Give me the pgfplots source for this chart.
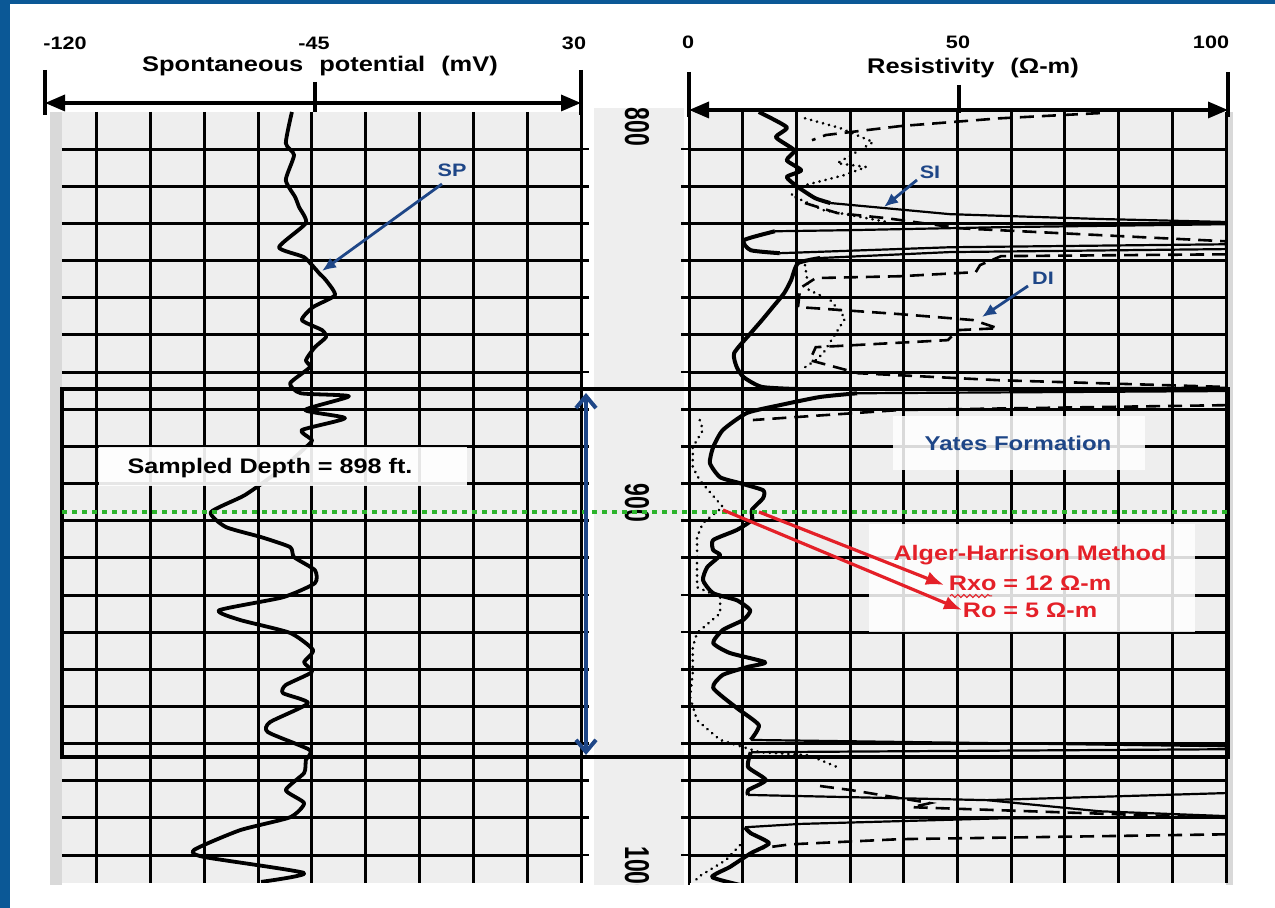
\documentclass[border=0pt]{standalone}
\usepackage{fontspec}
\setmainfont{Liberation Sans}
\usepackage{pgfplots}
\pgfplotsset{compat=1.18}
\usetikzlibrary{arrows.meta,decorations.pathmorphing}
\definecolor{frameblue}{RGB}{11,88,150}
\definecolor{annblue}{RGB}{30,70,135}
\definecolor{annred}{RGB}{228,32,40}
\definecolor{dotgreen}{RGB}{44,180,44}
\definecolor{cellgray}{RGB}{238,238,238}
\pgfplotsset{track/.style={scale only axis, height=385.5pt, ymin=790, ymax=997.5, y dir=reverse,
  axis line style={draw=none}, tick style={draw=none}, xticklabels={}, yticklabels={},
  ytick={800,810,...,990}, grid=major, major grid style={black, line width=1.5pt},
  axis background/.style={fill=cellgray}},
  bold/.style={black, line width=2pt, line join=round, smooth, tension=0.35},
  thin/.style={black, line width=1.1pt, line join=round},
  dsh/.style={black, line width=1.3pt, dash pattern=on 7pt off 4pt},
  dts/.style={black, line width=1.4pt, line cap=round, dash pattern=on 0.1pt off 3pt}}
\begin{document}
\begin{tikzpicture}[x=0.5pt,y=0.5pt,
  lbl/.style={font=\bfseries\fontsize{#1}{#1}\selectfont, xscale=1.2, inner sep=0pt}]
\path[use as bounding box, fill=white] (0,0) rectangle (1275,908);
\begin{scope}[y=-0.5pt, yshift=454pt]
\fill[gray!30] (50,112) rectangle (62,885);
\fill[gray!30] (1226,112) rectangle (1233,885);
\fill[cellgray] (594,108) rectangle (684,885);
\end{scope}

% SP track
\begin{axis}[track, at={(31pt,398pt)}, anchor=north west, width=259.5pt,
  xmin=-114.7, xmax=30, xtick={-105,-90,...,30}]
\addplot[black, line width=1.9pt, line join=round, smooth, tension=0.35] coordinates {
(-50.6,790.0) (-52.3,798.4) (-50.0,801.6) (-52.3,808.3) (-49.7,812.9) (-48.6,815.6)
(-46.7,819.9) (-54.2,826.4) (-47.2,829.1) (-43.0,833.4) (-41.1,835.3) (-38.6,839.3)
(-44.7,842.5) (-47.8,846.0) (-42.2,848.7) (-41.1,850.6) (-44.2,853.3) (-46.7,856.8)
(-45.6,858.7) (-51.1,863.0) (-48.1,865.7) (-34.7,866.5) (-46.9,870.2) (-35.8,872.4)
(-47.8,875.6) (-45.0,878.3) (-46.7,880.2) (-53.9,886.4) (-63.7,893.1) (-73.2,897.7)
(-69.0,901.7) (-59.2,904.4) (-51.1,907.1) (-50.0,909.8) (-44.2,913.3) (-44.2,916.8)
(-53.1,920.6) (-70.9,924.1) (-65.1,926.7) (-51.1,930.2) (-44.7,934.8) (-47.2,938.1)
(-45.0,940.7) (-52.3,944.2) (-53.1,946.4) (-46.1,949.1) (-56.7,954.2) (-57.3,956.9)
(-45.6,961.7) (-46.7,964.4) (-47.2,967.9) (-52.3,972.5) (-47.2,976.0) (-51.1,979.8)
(-65.1,983.3) (-77.9,988.6) (-75.1,990.5) (-47.2,994.8) (-59.2,997.2)};
\end{axis}

% Resistivity track
\begin{axis}[track, at={(344.5pt,398pt)}, anchor=north west, width=268.5pt,
  xmin=0, xmax=100, xtick={0,10,...,100}]
\addplot[bold] coordinates {(13.0,790.0) (18.2,794.1) (16.2,796.8) (19.6,800.3) (18.2,803.0) (20.9,805.7) (18.2,807.5) (20.3,810.2) (23.5,813.2) (26.3,814.5)};
\addplot[bold] coordinates {(16.0,822.1) (10.2,824.5) (11.5,827.2) (16.9,828.0)};
\addplot[bold] coordinates {(24.4,829.3) (20.3,830.7) (19.0,835.3) (17.7,838.8) (15.6,842.5) (13.6,846.0) (11.5,849.5) (8.4,854.9) (8.9,858.7) (10.2,861.4) (13.6,864.0) (20.7,864.6)};
\addplot[bold] coordinates {(31.3,865.7) (24.4,866.7) (16.9,868.9) (10.8,871.0) (6.3,875.6) (4.5,880.2) (3.9,884.5) (5.8,888.3) (9.5,889.9) (13.8,891.8) (13.8,893.9) (11.7,897.1) (11.7,899.8) (8.9,902.5) (4.5,905.2) (4.5,907.9) (5.8,909.3) (3.4,912.5) (2.6,916.0) (4.5,919.5) (8.9,921.4) (11.4,924.1) (10.1,926.7) (6.3,929.4) (4.5,932.9) (7.6,935.6) (14.2,938.1) (10.8,939.4) (6.3,941.5) (4.5,945.0) (8.9,950.4) (13.0,955.0) (11.5,959.0)};
\addplot[bold] coordinates {(11.5,962.3) (11.0,966.3) (14.3,969.8) (11.0,972.5) (11.0,973.8)};
\addplot[bold] coordinates {(10.4,982.5) (11.5,984.1) (14.9,986.8) (11.5,989.5) (7.6,993.2) (4.3,995.9) (9.7,998.1)};
\addplot[thin] coordinates {(26.3,814.5) (48.6,817.5) (76.5,818.8) (100,819.6) (100,820.2) (57.9,821.0) (30.0,821.8) (16.0,822.1)};
\addplot[thin] coordinates {(16.9,828.0) (48.6,826.4) (100,825.6) (100,826.9) (48.6,827.7) (24.4,829.3)};
\addplot[thin] coordinates {(20.7,864.6) (100,864.2) (100,865.1) (31.3,865.7)};
\addplot[thin] coordinates {(11.5,959.0) (100,960.7) (100,961.5) (11.5,962.3)};
\addplot[thin] coordinates {(11.0,973.8) (55.5,975.2) (100,973.3)};
\addplot[thin] coordinates {(55.5,975.2) (76.5,978.2) (100,979.5)};
\addplot[thin] coordinates {(100,979.8) (57.9,980.1) (20.7,981.6) (10.4,982.5)};
\addplot[dsh] coordinates {(76.5,790.3) (57.9,791.7) (39.3,793.8) (25.5,796.2) (22.9,797.6)};
\addplot[dsh] coordinates {(21.6,814.5) (27.6,817.2) (36.9,818.6) (50.5,821.3) (100,824.8)};
\addplot[dsh] coordinates {(100,828.3) (58.1,828.8) (54.2,831.2) (53.4,833.1) (39.3,834.2) (23.6,834.7) (20.7,837.4) (20.3,842.5) (39.3,844.4) (52.9,846.0) (57.5,848.2) (50.1,848.7) (48.2,851.4) (23.6,853.3) (22.5,856.8) (31.5,860.3) (57.9,862.2) (100,864.0)};
\addplot[dsh] coordinates {(100,868.9) (39.3,870.2) (11.9,872.9)};
\addplot[dsh] coordinates {(24.4,971.4) (30.2,972.5) (44.9,976.0) (41.5,977.1) (100,980.0)};
\addplot[dsh] coordinates {(100,984.4) (39.3,985.7) (18.8,987.1) (13.2,988.2)};
\addplot[dts] coordinates {(21.6,791.7) (28.1,794.3) (34.3,798.1) (27.6,803.8) (33.0,804.8) (28.9,807.0) (21.6,809.7) (19.0,812.4) (25.0,816.4) (36.9,819.6)};
\addplot[dts] coordinates {(21.6,831.2) (22.3,837.9) (26.3,840.6) (29.1,845.5) (25.0,854.9) (23.6,856.8) (21.6,858.7)};
\addplot[dts] coordinates {(2.0,872.9) (2.6,875.6) (0.7,880.2) (0.7,885.6) (2.0,889.1) (5.2,894.5) (6.3,896.3) (2.6,900.6) (1.5,904.4) (1.5,912.5) (1.5,917.9) (5.8,920.6) (5.8,924.9) (1.5,930.2) (0.7,934.0) (0.7,941.0) (0.2,947.5) (1.5,953.7) (5.8,959.0) (13.2,962.3) (22.3,963.1) (28.1,966.6)};
\addplot[dts] coordinates {(9.5,987.3) (6.9,991.3) (1.7,995.9) (0.6,998)};
\end{axis}

\begin{scope}[y=-0.5pt, yshift=454pt]
% depth track ticks
\foreach \d in {800,810,...,990} {
  \draw[line width=1.4pt] (581,{149+(\d-800)*3.716}) -- ++(8,0);
  \draw[line width=1.4pt] (689,{149+(\d-800)*3.716}) -- ++(-8,0);
}
\draw[line width=1pt] (689,108) -- (689,885);
\node[font=\bfseries\fontsize{11.5}{11.5}\selectfont, xscale=1.5, rotate=-90, inner sep=0pt] at (637,127) {800};
\node[font=\bfseries\fontsize{11.5}{11.5}\selectfont, xscale=1.5, rotate=-90, inner sep=0pt] at (637,503) {900};
\node[font=\bfseries\fontsize{11.5}{11.5}\selectfont, xscale=1.5, rotate=-90, inner sep=0pt] at (637,872) {1000};
\fill[white] (11,885) rectangle (1275,908);

% top scales
\draw[line width=1.7pt, {Triangle[length=10pt,width=8pt]}-{Triangle[length=10pt,width=8pt]}] (45,103) -- (581,103);
\draw[line width=1.7pt] (45,70) -- (45,115) (581,70) -- (581,115) (315,82) -- (315,112);
\draw[line width=1.7pt, {Triangle[length=10pt,width=8pt]}-{Triangle[length=10pt,width=8pt]}] (689,110) -- (1228,110);
\draw[line width=1.7pt] (689,72) -- (689,117) (1228,72) -- (1228,117) (959,85) -- (959,113);
\node[lbl=9] at (65,43) {-120};
\node[lbl=9] at (314,43) {-45};
\node[lbl=9] at (574,43) {30};
\node[lbl=9] at (688,42) {0};
\node[lbl=9] at (958,42) {50};
\node[lbl=9] at (1211,42) {100};
\node[lbl=10.6] at (320,66) {Spontaneous\hspace{0.35em} potential\hspace{0.35em} (mV)};
\node[lbl=10.6] at (973,68) {Resistivity\hspace{0.35em} (Ω-m)};

% annotations
\draw[line width=2.2pt] (62,389) rectangle (1228,757);
\fill[white, opacity=0.9] (99,447) rectangle (467,486);
\node[lbl=10.5] at (270,468) {Sampled Depth = 898 ft.};
\fill[white, opacity=0.85] (893,416) rectangle (1145,470);
\node[lbl=10, text=annblue] at (1018,443) {Yates Formation};
\fill[white, opacity=0.85] (869,524) rectangle (1195,632);
\draw[dotgreen, line width=2.2pt, dash pattern=on 2.5pt off 2.5pt] (62,512) -- (1228,512);
\draw[annblue, line width=2pt, {Straight Barb[length=6pt,width=10pt]}-{Straight Barb[length=6pt,width=10pt]}] (586,393) -- (586,755);
\draw[annred, line width=1.6pt, -{Latex[length=9pt,width=7pt]}] (759,512) -- (944,585);
\draw[annred, line width=1.6pt, -{Latex[length=9pt,width=7pt]}] (723,510) -- (962,610);
\node[lbl=10.5, text=annred] at (1030,555) {Alger-Harrison Method};
\node[lbl=10.5, text=annred] at (1030,583) {Rxo = 12 Ω-m};
\node[lbl=10.5, text=annred] at (1030,610) {Ro = 5 Ω-m};
\draw[annred, line width=0.5pt, decorate, decoration={snake, amplitude=0.8pt, segment length=3pt}] (950,596) -- (992,596);

\node[lbl=9, text=annblue] at (452,170) {SP};
\draw[annblue, line width=1.4pt, -{Latex[length=7pt,width=6pt]}] (442,184) -- (322,271);
\node[lbl=9, text=annblue] at (930,172) {SI};
\draw[annblue, line width=1.4pt, -{Latex[length=7pt,width=6pt]}] (917,180) -- (884,207);
\node[lbl=9, text=annblue] at (1043,278) {DI};
\draw[annblue, line width=1.4pt, -{Latex[length=7pt,width=6pt]}] (1028,286) -- (982,317);

\fill[frameblue] (0,0) rectangle (1275,4);
\fill[frameblue] (0,0) rectangle (10,908);
\end{scope}
\end{tikzpicture}
\end{document}
